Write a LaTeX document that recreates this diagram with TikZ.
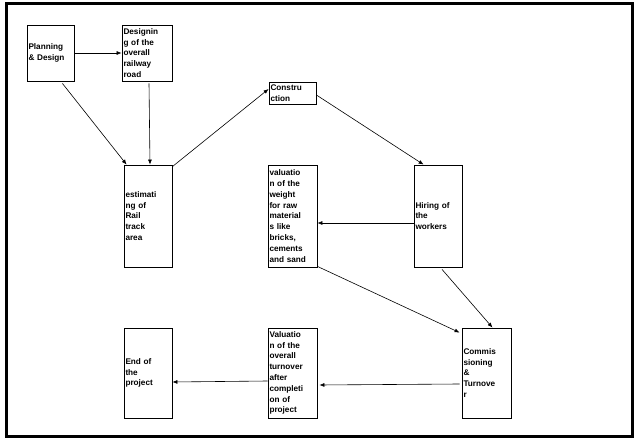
\documentclass[tikz,border=0pt]{standalone}
\usepackage{fontspec}
\setmainfont{Liberation Sans}
\usetikzlibrary{arrows.meta}

\tikzset{
  task/.style={draw=black, line width=0.8pt, fill=white, align=left, inner sep=1.5pt,
    font=\bfseries\fontsize{8.2}{10.8}\selectfont},
  link/.style={line width=0.6pt, -{Latex[length=5pt,width=4pt]}}
}

\begin{document}
\begin{tikzpicture}[x=1pt,y=-1pt]
\useasboundingbox (0,0) rectangle (641,441);
% outer frame
\draw[line width=3pt] (6,4) rectangle (632,436);

% boxes
\node[task, minimum width=47pt, minimum height=56pt, text width=44pt] (plan) at (50.5,53) {Planning\\\& Design};
\node[task, minimum width=50pt, minimum height=56pt, text width=47pt] (design) at (147,53) {Designin\\g of the\\overall\\railway\\road};
\node[task, minimum width=47pt, minimum height=22pt, text width=44pt] (constr) at (292.5,93) {Constru\\ction};
\node[task, minimum width=48pt, minimum height=102pt, text width=45pt] (estim) at (148,216) {estimati\\ng of\\Rail\\track\\area};
\node[task, minimum width=49pt, minimum height=102pt, text width=46pt] (weight) at (292.5,216) {valuatio\\n of the\\weight\\for raw\\material\\s like\\bricks,\\cements\\and sand};
\node[task, minimum width=48pt, minimum height=102pt, text width=45pt] (hire) at (438,216) {Hiring of\\the\\workers};
\node[task, minimum width=49pt, minimum height=90pt, text width=46pt] (commis) at (486.5,373) {Commis\\sioning\\\&\\Turnove\\r};
\node[task, minimum width=49pt, minimum height=90pt, text width=46pt] (turn) at (292.5,373) {Valuatio\\n of the\\overall\\turnover\\after\\completi\\on of\\project};
\node[task, minimum width=48pt, minimum height=90pt, text width=45pt] (end) at (148,373) {End of\\the\\project};

% connectors
\draw[link] (plan.east) -- (design.west);
\draw[link] (plan.south east) ++(-12,2) -- ([xshift=3pt]estim.north west);
\draw[link] (design.south) ++(2,2) -- ([xshift=2pt]estim.north);
\draw[link] ([yshift=-2pt]estim.north east) -- ([yshift=4pt]constr.west);
\draw[link] ([yshift=-2pt]constr.east) -- ([xshift=10pt]hire.north west);
\draw[link] (hire.west) ++(0,7) -- ([yshift=-7pt]weight.east);
\draw[link] (hire.south) ++(4,2) -- ([xshift=6pt]commis.north);
\draw[link] (weight.south east) ++(0,-1) -- ([yshift=-5pt,xshift=-2pt]commis.north west);
\draw[link] ([yshift=-11pt,xshift=-2pt]commis.west) -- ([yshift=-12pt,xshift=2pt]turn.east);
\draw[link] ([yshift=-8pt]turn.west) -- ([yshift=-9pt]end.east);
\end{tikzpicture}
\end{document}
